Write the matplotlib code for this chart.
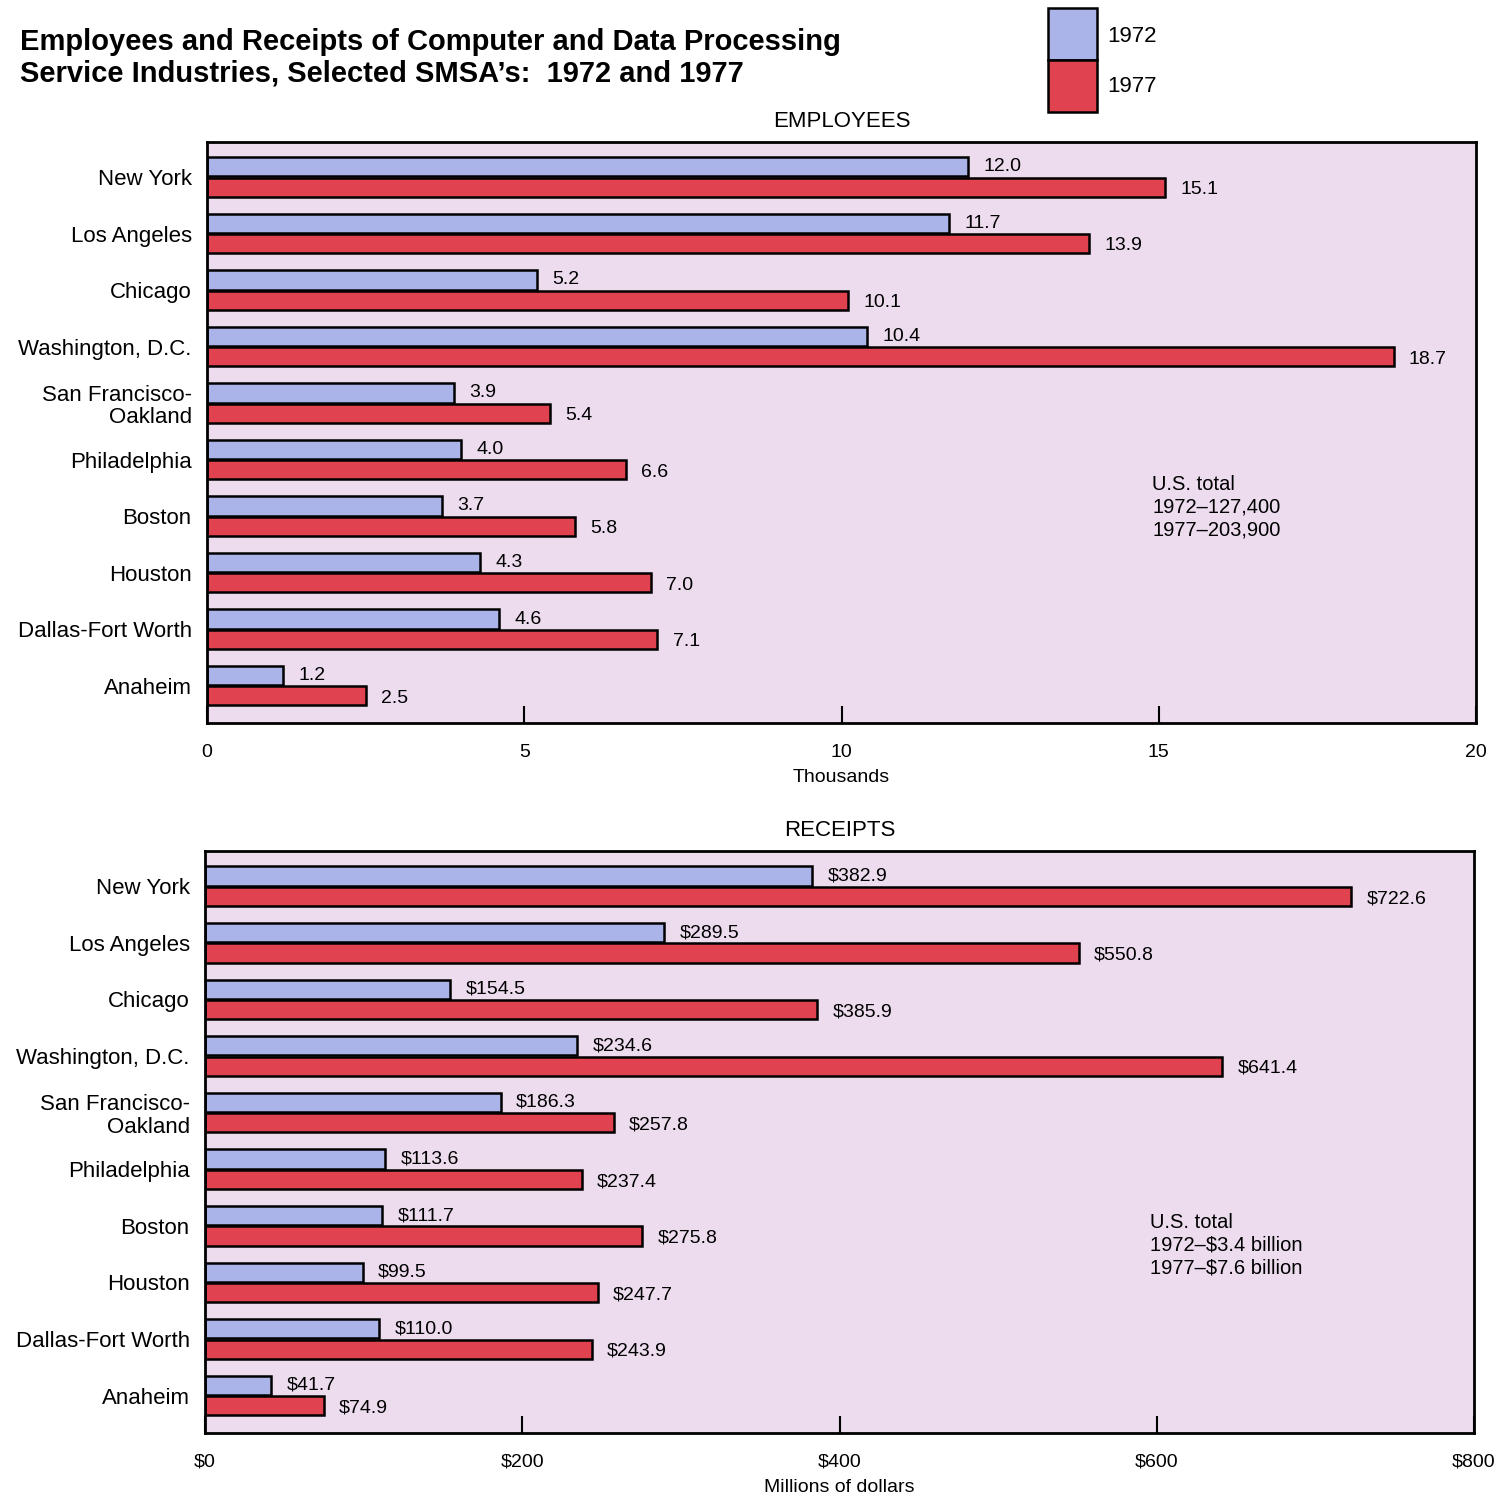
import matplotlib.pyplot as plt
from matplotlib.patches import Rectangle
import numpy as np

plt.rcParams['font.family'] = ['Liberation Sans', 'DejaVu Sans']

CITIES = ["New York", "Los Angeles", "Chicago", "Washington, D.C.",
          "San Francisco-\nOakland", "Philadelphia", "Boston", "Houston",
          "Dallas-Fort Worth", "Anaheim"]
EMP_1972 = [12.0, 11.7, 5.2, 10.4, 3.9, 4.0, 3.7, 4.3, 4.6, 1.2]
EMP_1977 = [15.1, 13.9, 10.1, 18.7, 5.4, 6.6, 5.8, 7.0, 7.1, 2.5]
REC_1972 = [382.9, 289.5, 154.5, 234.6, 186.3, 113.6, 111.7, 99.5, 110.0, 41.7]
REC_1977 = [722.6, 550.8, 385.9, 641.4, 257.8, 237.4, 275.8, 247.7, 243.9, 74.9]

BLUE = "#aab4e8"
RED = "#e0434f"
BG = "#ecdcee"

W, H = 1501, 1499
fig = plt.figure(figsize=(W / 100, H / 100), dpi=100)


def fx(px):
    return px / W


def fy(py):
    return 1 - py / H


def panel(rect, v72, v77, xmax, ticks, ticklabels, fmt, xlabel, title, note, note_y):
    ax = fig.add_axes(rect)
    ax.set_facecolor(BG)
    y = np.arange(len(CITIES))
    h = 0.34
    ax.barh(y - h / 2 - 0.01, v72, height=h, color=BLUE, edgecolor="black", linewidth=1.8)
    ax.barh(y + h / 2 + 0.01, v77, height=h, color=RED, edgecolor="black", linewidth=1.8)
    off = xmax * 0.012
    for yi, a, b in zip(y, v72, v77):
        ax.text(a + off, yi - h / 2 - 0.01, fmt(a), va="center", ha="left", fontsize=14)
        ax.text(b + off, yi + h / 2 + 0.05, fmt(b), va="center", ha="left", fontsize=14)
    ax.set_xlim(0, xmax)
    ax.set_ylim(9.66, -0.62)
    ax.set_yticks(y)
    ax.set_yticklabels(CITIES, fontsize=16, linespacing=1.1)
    ax.tick_params(axis="y", length=0, pad=11)
    ax.set_xticks(ticks)
    ax.set_xticklabels(ticklabels, fontsize=14)
    ax.tick_params(axis="x", direction="in", length=12, width=1.5, pad=15)
    for lab in ax.get_yticklabels():
        lab.set_horizontalalignment("right")
    for s in ax.spines.values():
        s.set_linewidth(2)
    ax.set_xlabel(xlabel, fontsize=14, labelpad=6)
    ax.set_title(title, fontsize=16, pad=11)
    ax.text(0.745, note_y, note, transform=ax.transAxes, fontsize=14.5,
            va="top", ha="left", linespacing=1.25)
    return ax


panel([fx(207), fy(723), fx(1476 - 207), (723 - 142) / H],
      EMP_1972, EMP_1977, 20, [0, 5, 10, 15, 20],
      ["0", "5", "10", "15", "20"], lambda v: f"{v:.1f}",
      "Thousands", "EMPLOYEES",
      "U.S. total\n1972\u2013127,400\n1977\u2013203,900", 0.427)

panel([fx(205), fy(1433), fx(1474 - 205), (1433 - 851) / H],
      REC_1972, REC_1977, 800, [0, 200, 400, 600, 800],
      ["$0", "$200", "$400", "$600", "$800"], lambda v: f"${v:.1f}",
      "Millions of dollars", "RECEIPTS",
      "U.S. total\n1972\u2013$3.4 billion\n1977\u2013$7.6 billion", 0.378)

fig.text(fx(20), fy(42), "Employees and Receipts of Computer and Data Processing",
         fontsize=21, fontweight="bold", va="center", ha="left")
fig.text(fx(20), fy(74), "Service Industries, Selected SMSA\u2019s:  1972 and 1977",
         fontsize=21, fontweight="bold", va="center", ha="left")

# legend
fig.patches.append(Rectangle((fx(1048), fy(60)), fx(49), 52 / H, transform=fig.transFigure,
                             facecolor=BLUE, edgecolor="black", linewidth=1.8))
fig.patches.append(Rectangle((fx(1048), fy(112)), fx(49), 52 / H, transform=fig.transFigure,
                             facecolor=RED, edgecolor="black", linewidth=1.8))
fig.text(fx(1107), fy(36), "1972", fontsize=16, va="center", ha="left")
fig.text(fx(1107), fy(87), "1977", fontsize=16, va="center", ha="left")

fig.savefig("out.png", dpi=100)
